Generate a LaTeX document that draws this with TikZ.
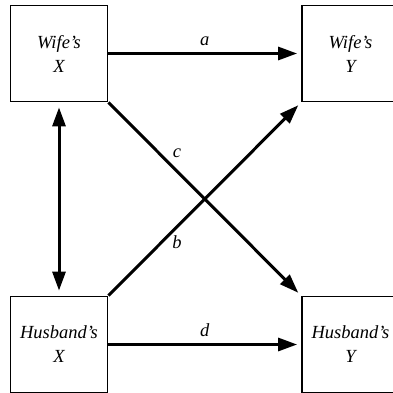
\documentclass[tikz,border=0pt]{standalone}
\usepackage{fontspec}
\setmainfont{Liberation Serif}
\usetikzlibrary{arrows.meta}
\begin{document}
\begin{tikzpicture}[x=1pt,y=-1pt,
  varbox/.style={draw, line width=1.8pt, minimum width=97pt, minimum height=96pt, inner sep=0pt, align=center, font=\fontsize{18.5}{24}\selectfont\itshape},
  path/.style={line width=3pt, -{Triangle[length=19pt,width=13pt]}, shorten >=4pt},
  bipath/.style={line width=3pt, {Triangle[length=19pt,width=13pt]}-{Triangle[length=19pt,width=13pt]}, shorten >=5pt, shorten <=5pt},
  lab/.style={font=\fontsize{18.5}{22}\selectfont\itshape, inner sep=0pt}]
\useasboundingbox (0,0) rectangle (392,393);
\node[varbox] (wx) at (59,53.5) {Wife's\\X};
\node[varbox] (wy) at (350.5,53.5) {Wife's\\Y};
\node[varbox] (hx) at (59,344.5) {Husband's\\X};
\node[varbox] (hy) at (350.5,344.5) {Husband's\\Y};
\draw[path] (wx) -- (wy) node[lab, midway, above=6pt] {a};
\draw[path] (hx) -- (hy) node[lab, midway, above=6pt] {d};
\draw[path] (wx.south east) -- (hy.north west);
\draw[path] (hx.north east) -- (wy.south west);
\draw[bipath] (wx) -- (hx);
\node[lab] (lc) at (177,153) {c};
\node[lab] (lb) at (177,242) {b};
\end{tikzpicture}
\end{document}
